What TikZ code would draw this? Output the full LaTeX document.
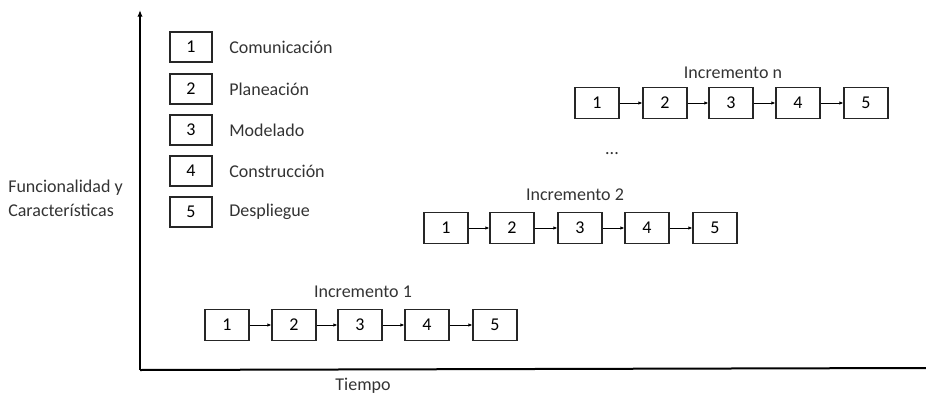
\documentclass[tikz,border=0pt]{standalone}
\usepackage{fontspec}
\setmainfont{Carlito}
\usetikzlibrary{arrows.meta}
\begin{document}
\begin{tikzpicture}[x=0.75pt,y=-0.75pt,
  stage/.style={draw=black!85,line width=0.8pt,minimum width=33pt,minimum height=23pt,inner sep=0pt,font=\fontsize{13.5}{16}\selectfont},
  leg/.style={draw=black!85,line width=0.8pt,minimum width=31.5pt,minimum height=22.5pt,inner sep=0pt,font=\fontsize{13.5}{16}\selectfont},
  lbl/.style={font=\fontsize{13.5}{18}\selectfont,text=black!80,inner sep=0pt},
  link/.style={line width=0.6pt,-{Latex[length=3pt,width=2.5pt]}},
  axis/.style={line width=1.5pt}]
\useasboundingbox (0,0) rectangle (926,397);
% axes
\coordinate (o) at (140,370);
\coordinate (ytop) at (140,10);
\coordinate (xend) at (926,368);
\draw[axis,-{Latex[length=5pt,width=4pt]}] (o) -- (ytop);
\draw[axis] (o) -- (xend);
\node[lbl,anchor=west,align=left] (ylab) at (8,198) {Funcionalidad y\\Características};
\node[lbl] (xlab) at (363,386) {Tiempo};
% legend
\foreach \i/\y/\t in {1/47/Comunicación,2/89/Planeación,3/130/Modelado,4/171/Construcción,5/212/Despliegue}{
  \node[leg] (l\i) at (191,\y) {\i};
  \node[lbl,anchor=west] (t\i) at (229,\y) {\t};
}
% Incremento n
\foreach \i/\x in {1/597,2/665,3/731,4/798,5/866}{
  \node[stage] (n\i) at (\x,103) {\i};
}
\node[lbl] (ln) at (733,73) {Incremento n};
\foreach \a/\b in {1/2,2/3,3/4,4/5}{\draw[link] (n\a) -- (n\b);}
\node[lbl] (dots) at (612,154) {...};
% Incremento 2
\foreach \i/\x in {1/446,2/512,3/580,4/647,5/715}{
  \node[stage] (b\i) at (\x,228) {\i};
}
\node[lbl] (l2) at (575,195) {Incremento 2};
\foreach \a/\b in {1/2,2/3,3/4,4/5}{\draw[link] (b\a) -- (b\b);}
% Incremento 1
\foreach \i/\x in {1/227,2/294,3/360,4/427,5/495}{
  \node[stage] (a\i) at (\x,325) {\i};
}
\node[lbl] (l1) at (363,292) {Incremento 1};
\foreach \a/\b in {1/2,2/3,3/4,4/5}{\draw[link] (a\a) -- (a\b);}
\end{tikzpicture}
\end{document}
